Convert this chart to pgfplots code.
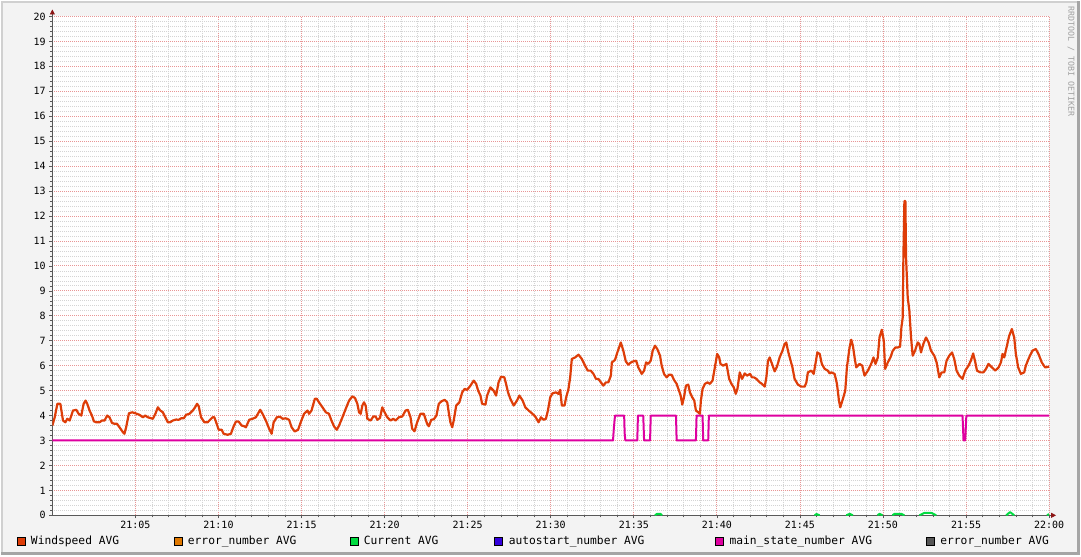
\documentclass[border=0pt]{standalone}
\usepackage{fontspec}
\setmainfont{DejaVu Sans Mono}
\usepackage{pgfplots}
\pgfplotsset{compat=1.18}
\usepackage{pgfplotstable}
\usetikzlibrary{arrows.meta}

\definecolor{bggray}{RGB}{243,243,243}
\definecolor{wsred}{RGB}{222,61,8}
\definecolor{errorange}{RGB}{224,120,0}
\definecolor{curgreen}{RGB}{0,220,64}
\definecolor{autoblue}{RGB}{51,0,221}
\definecolor{msmagenta}{RGB}{222,0,160}
\definecolor{errgray}{RGB}{85,85,85}
\definecolor{mgrid}{RGB}{232,150,150}
\definecolor{sgrid}{RGB}{212,212,212}
\definecolor{arrowred}{RGB}{140,20,20}

% minutes after 21:00
\pgfplotstableread{
min val
0.00 3.60
0.14 3.93
0.30 4.47
0.48 4.47
0.64 3.80
0.78 3.73
0.90 3.87
1.04 3.80
1.24 4.20
1.44 4.23
1.58 4.07
1.74 4.00
1.88 4.47
2.00 4.60
2.10 4.47
2.24 4.20
2.38 4.00
2.50 3.77
2.64 3.73
2.84 3.73
2.98 3.80
3.14 3.80
3.30 4.00
3.44 3.93
3.59 3.70
3.74 3.67
3.89 3.67
4.04 3.53
4.25 3.33
4.34 3.27
4.44 3.53
4.61 4.09
4.80 4.13
5.00 4.09
5.24 4.03
5.45 3.93
5.59 4.00
5.75 3.93
5.90 3.90
6.05 3.87
6.20 4.07
6.35 4.33
6.50 4.20
6.65 4.13
6.80 3.93
6.95 3.73
7.09 3.73
7.25 3.80
7.45 3.84
7.61 3.83
7.75 3.89
7.91 3.89
8.05 4.03
8.25 4.07
8.45 4.20
8.59 4.33
8.71 4.47
8.81 4.37
8.95 3.93
9.15 3.73
9.35 3.73
9.49 3.83
9.65 3.93
9.75 3.93
9.89 3.67
10.01 3.43
10.19 3.43
10.31 3.27
10.55 3.23
10.75 3.27
10.89 3.53
11.05 3.76
11.21 3.76
11.39 3.60
11.55 3.57
11.65 3.53
11.85 3.83
12.05 3.87
12.25 3.93
12.51 4.23
12.65 4.07
12.85 3.80
13.05 3.47
13.20 3.27
13.32 3.73
13.51 3.93
13.71 3.95
13.86 3.87
14.05 3.89
14.25 3.83
14.40 3.53
14.59 3.36
14.79 3.43
14.95 3.73
15.15 4.07
15.36 4.20
15.45 4.07
15.60 4.20
15.80 4.67
15.92 4.67
16.05 4.53
16.26 4.33
16.46 4.13
16.65 4.07
16.80 3.80
16.96 3.56
17.12 3.43
17.26 3.60
17.46 3.93
17.66 4.27
17.86 4.60
18.06 4.77
18.22 4.70
18.36 4.47
18.46 4.13
18.56 4.07
18.66 4.40
18.76 4.53
18.86 4.40
18.96 3.87
19.16 3.80
19.32 3.96
19.46 3.96
19.56 3.83
19.72 3.90
19.86 4.33
20.00 4.13
20.16 3.93
20.36 3.80
20.52 3.87
20.66 3.80
20.86 3.93
21.06 3.96
21.26 4.20
21.40 4.23
21.56 3.93
21.66 3.47
21.80 3.37
21.96 3.73
22.16 4.07
22.36 4.07
22.56 3.67
22.66 3.57
22.81 3.83
22.96 3.85
23.12 4.00
23.26 4.47
23.42 4.57
23.62 4.63
23.77 4.53
23.86 4.13
23.96 3.73
24.07 3.53
24.16 3.80
24.31 4.40
24.50 4.53
24.67 4.93
24.82 5.07
24.97 5.03
25.17 5.20
25.36 5.40
25.51 5.27
25.63 5.00
25.77 4.80
25.87 4.47
26.07 4.44
26.17 4.80
26.37 5.13
26.56 5.00
26.71 4.80
26.86 5.33
27.01 5.56
27.21 5.53
27.31 5.27
27.43 4.93
27.57 4.67
27.77 4.40
27.97 4.60
28.11 4.80
28.31 4.60
28.47 4.33
28.67 4.20
28.87 4.09
29.07 3.96
29.27 3.73
29.41 3.93
29.57 3.83
29.71 3.87
29.83 4.20
29.97 4.73
30.11 4.89
30.31 4.93
30.47 4.87
30.57 5.03
30.67 4.40
30.83 4.40
30.93 4.73
31.07 5.07
31.17 5.53
31.27 6.27
31.47 6.33
31.67 6.44
31.87 6.27
32.07 6.00
32.23 5.80
32.41 5.80
32.57 5.67
32.72 5.47
32.87 5.47
33.02 5.33
33.17 5.20
33.32 5.33
33.47 5.33
33.62 5.60
33.68 6.13
33.87 6.23
34.01 6.53
34.22 6.93
34.37 6.60
34.52 6.17
34.67 6.04
34.83 6.13
34.97 6.17
35.14 6.20
35.27 5.93
35.48 5.67
35.62 5.80
35.74 6.13
35.87 6.07
36.02 6.20
36.14 6.60
36.28 6.80
36.41 6.67
36.58 6.40
36.68 6.00
36.82 5.67
36.98 5.53
37.12 5.64
37.28 5.63
37.42 5.43
37.58 5.27
37.72 5.00
37.82 4.80
37.92 4.44
38.02 4.73
38.14 5.20
38.28 5.24
38.38 4.93
38.52 4.73
38.64 4.60
38.74 4.20
38.88 4.13
38.98 4.07
39.04 4.60
39.14 5.07
39.28 5.27
39.44 5.33
39.58 5.27
39.74 5.40
39.88 5.93
40.02 6.47
40.14 6.33
40.22 6.07
40.38 6.00
40.58 6.07
40.74 5.47
40.88 5.27
41.02 5.13
41.14 4.87
41.24 5.07
41.38 5.73
41.52 5.47
41.68 5.69
41.82 5.60
42.00 5.67
42.12 5.53
42.24 5.53
42.38 5.47
42.58 5.33
42.72 5.27
42.88 5.16
42.98 5.53
43.08 6.20
43.18 6.33
43.32 6.07
43.48 5.77
43.62 5.96
43.78 6.33
43.95 6.60
44.08 6.87
44.18 6.93
44.28 6.60
44.44 6.20
44.55 5.93
44.68 5.47
44.88 5.24
45.09 5.16
45.29 5.16
45.39 5.33
45.48 5.73
45.69 5.80
45.83 5.67
45.95 6.13
46.05 6.53
46.19 6.47
46.32 6.07
46.49 5.87
46.68 5.80
46.79 5.69
46.89 5.73
47.09 5.67
47.23 5.27
47.35 4.60
47.43 4.33
47.59 4.67
47.73 5.00
47.83 5.93
47.99 6.73
48.09 7.04
48.19 6.80
48.29 6.33
48.39 5.93
48.59 6.07
48.75 6.00
48.89 5.60
49.09 5.80
49.29 6.07
49.43 6.33
49.55 6.07
49.69 6.33
49.79 7.13
49.93 7.44
50.05 7.00
50.13 5.87
50.29 6.13
50.45 6.33
50.59 6.60
50.75 6.73
50.89 6.73
51.03 6.76
51.11 7.53
51.19 7.93
51.23 10.33
51.29 12.60
51.35 12.60
51.39 10.33
51.49 8.73
51.59 8.20
51.69 7.13
51.79 6.40
51.93 6.60
52.09 6.93
52.19 6.87
52.29 6.53
52.43 6.87
52.59 7.13
52.75 6.93
52.89 6.60
53.09 6.40
53.23 6.13
53.39 5.53
53.53 5.73
53.69 5.73
53.83 6.20
53.99 6.40
54.16 6.53
54.29 6.27
54.43 5.80
54.59 5.60
54.79 5.47
54.95 5.80
55.15 6.00
55.29 6.20
55.43 6.49
55.56 6.13
55.66 5.80
55.86 5.73
56.05 5.73
56.20 5.87
56.35 6.07
56.56 5.93
56.76 5.80
56.96 5.93
57.10 6.13
57.20 6.47
57.30 6.33
57.44 6.73
57.60 7.20
57.76 7.47
57.90 7.13
58.00 6.47
58.14 5.93
58.30 5.67
58.50 5.73
58.60 6.00
58.80 6.33
59.00 6.60
59.20 6.67
59.36 6.47
59.56 6.13
59.76 5.93
60.00 5.96
}\windspeed

\pgfplotstableread{
min val
0.00 3
33.75 3
33.80 3.5
33.87 4
34.42 4
34.45 3.3
34.49 3
35.21 3
35.25 4
35.57 4
35.62 3
35.98 3
36.02 4
37.54 4
37.58 3
38.74 3
38.78 4
39.14 4
39.18 3
39.48 3
39.52 4
54.79 4
54.85 3
54.95 3
55.02 4
60.00 4
}\mainstate

\pgfplotstableread{
min val
36.28 0
36.40 0.06
36.60 0.06
36.70 0
36.71 nan
45.89 0
46.00 0.05
46.19 0
46.20 nan
47.79 0
48.00 0.06
48.19 0
48.20 nan
49.67 0
49.80 0.06
49.97 0
49.98 nan
50.57 0
50.70 0.06
51.10 0.06
51.29 0
51.30 nan
52.19 0
52.50 0.10
52.90 0.10
53.21 0
53.22 nan
57.42 0
57.65 0.13
57.90 0
57.91 nan
59.88 0
60.00 0.05
}\current

\pgfplotsset{
  sqlegend/.style={legend image code/.code={
    \path[draw=none, fill=none] (0pt,0pt) -- (14pt,0pt);
    \draw[##1, draw=black, line width=0.6pt] (0pt,-4pt) rectangle (8pt,4pt);}},
}

\begin{document}
\begin{tikzpicture}
\fill[bggray] (0,0) rectangle (1081pt,555pt);
\draw[line width=2pt, draw={rgb,255:red,208;green,208;blue,208}] (1pt,0pt) -- (1pt,554pt) -- (1081pt,554pt);
\draw[line width=3pt, draw={rgb,255:red,165;green,165;blue,165}] (0pt,1.5pt) -- (1079.5pt,1.5pt) -- (1079.5pt,555pt);
\node[rotate=-90, font=\fontsize{8.3}{10}\selectfont, text={rgb,255:red,160;green,160;blue,160}]
  at (1072pt,495pt) {RRDTOOL / TOBI OETIKER};
\begin{axis}[
  at={(51pt,40pt)}, anchor=south west,
  scale only axis, width=999pt, height=500pt,
  xmin=0, xmax=60, ymin=0, ymax=20,
  axis background/.style={fill=white},
  axis lines=left,
  axis line style={draw=black!65, line width=0.8pt},
  x axis line style={-{Triangle[length=5pt,width=5pt,color=arrowred]}, shorten >=-7pt},
  y axis line style={-{Triangle[length=5pt,width=5pt,color=arrowred]}, shorten >=-7pt},
  xtick={5,10,...,60},
  xticklabels={21:05,21:10,21:15,21:20,21:25,21:30,21:35,21:40,21:45,21:50,21:55,22:00},
  ytick={0,1,...,20},
  minor x tick num=4, minor y tick num=4,
  grid=both,
  major grid style={draw=mgrid, dash pattern=on 1pt off 1pt, line width=0.8pt},
  minor grid style={draw=sgrid, dash pattern=on 1pt off 1pt, line width=0.7pt},
  tick align=outside,
  major tick length=3pt, minor tick length=2pt,
  tick style={draw=black!65, line width=0.6pt},
  xtick pos=left, ytick pos=left,
  /pgf/number format/assume math mode=true,
  tick label style={font=\fontsize{10}{12}\selectfont, inner sep=0pt},
  yticklabel style={anchor=east, xshift=-3.5pt},
  xticklabel style={anchor=north, yshift=-2.5pt},
  unbounded coords=jump,
  legend columns=6,
  legend cell align=left,
  legend style={at={(axis description cs:-0.036,-0.052)}, anchor=west,
    draw=none, fill=none, inner sep=0pt, column sep=0pt,
    nodes={inner sep=0pt, anchor=west},
    font=\fontsize{11.3}{13}\selectfont},
]
\addplot[forget plot, draw=msmagenta, line width=2pt, line join=round] table[x=min, y=val] {\mainstate};
\addplot[forget plot, draw=curgreen, line width=2pt, line join=round] table[x=min, y=val] {\current};
\addplot[forget plot, draw=wsred, line width=2.2pt, line join=round] table[x=min, y=val] {\windspeed};

\addlegendimage{sqlegend, fill=wsred}
\addlegendentry{\makebox[143pt][l]{Windspeed AVG}}
\addlegendimage{sqlegend, fill=errorange}
\addlegendentry{\makebox[162pt][l]{error\_number AVG}}
\addlegendimage{sqlegend, fill=curgreen}
\addlegendentry{\makebox[131pt][l]{Current AVG}}
\addlegendimage{sqlegend, fill=autoblue}
\addlegendentry{\makebox[207pt][l]{autostart\_number AVG}}
\addlegendimage{sqlegend, fill=msmagenta}
\addlegendentry{\makebox[197pt][l]{main\_state\_number AVG}}
\addlegendimage{sqlegend, fill=errgray}
\addlegendentry{error\_number AVG}
\end{axis}
\end{tikzpicture}
\end{document}
